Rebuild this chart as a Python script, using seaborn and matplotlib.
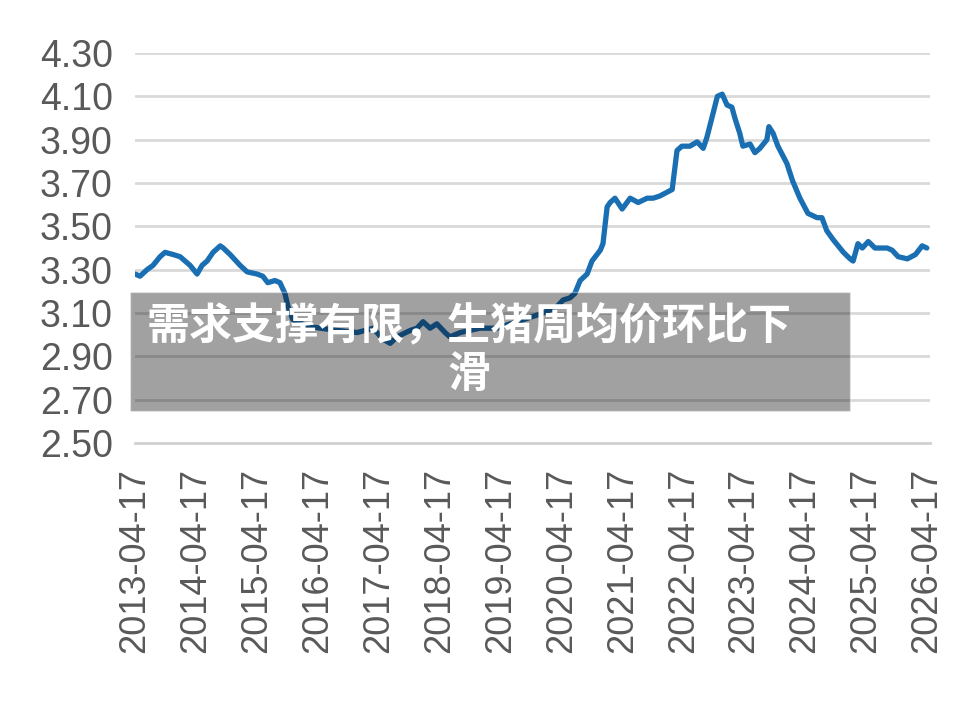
import pandas as pd
import matplotlib
matplotlib.use('Agg')
import matplotlib.pyplot as plt
import matplotlib.dates as mdates
import seaborn as sns

# Datos
fechas = ['2013-04-17', '2013-05-17', '2013-06-28', '2013-08-03', '2013-09-14', '2013-10-14',
          '2013-12-01', '2014-01-12', '2014-02-11', '2014-03-13', '2014-04-24', '2014-05-24',
          '2014-06-23', '2014-07-29', '2014-09-10', '2014-09-28', '2014-11-08', '2015-01-07',
          '2015-02-18', '2015-04-18', '2015-05-23', '2015-06-22', '2015-08-04', '2015-09-03',
          '2015-10-03', '2015-10-21', '2015-11-19', '2016-02-11', '2016-05-01', '2016-08-12',
          '2016-12-10', '2017-03-15', '2017-05-12', '2017-06-25', '2017-08-05', '2017-10-24',
          '2017-12-03', '2018-01-08', '2018-02-19', '2018-04-01', '2018-05-20', '2018-06-18',
          '2018-08-20', '2018-12-15', '2019-03-27', '2019-07-26', '2019-10-13', '2019-12-29',
          '2020-03-22', '2020-04-27', '2020-06-07', '2020-07-06', '2020-08-07', '2020-09-18',
          '2020-10-17', '2020-12-06', '2020-12-22', '2021-01-16', '2021-02-03', '2021-03-04',
          '2021-04-16', '2021-06-03', '2021-07-21', '2021-09-13', '2021-10-19', '2021-11-28',
          '2022-01-16', '2022-02-10', '2022-03-11', '2022-04-09', '2022-05-27', '2022-07-10',
          '2022-08-15', '2022-09-06', '2022-10-06', '2022-11-08', '2022-12-07', '2023-01-05',
          '2023-02-03', '2023-02-21', '2023-03-22', '2023-04-10', '2023-05-23', '2023-06-21',
          '2023-07-21', '2023-09-01', '2023-09-13', '2023-10-08', '2023-11-06', '2023-12-30',
          '2024-02-02', '2024-03-17', '2024-05-04', '2024-06-28', '2024-07-27', '2024-08-25',
          '2024-10-01', '2024-12-03', '2025-01-12', '2025-01-30', '2025-02-28', '2025-03-26',
          '2025-05-01', '2025-06-10', '2025-08-22', '2025-09-21', '2025-10-27', '2025-12-21',
          '2026-02-08', '2026-03-20', '2026-04-17']
precios = [3.28, 3.27, 3.30, 3.32, 3.36, 3.38,
           3.37, 3.36, 3.34, 3.32, 3.28, 3.32,
           3.34, 3.38, 3.41, 3.40, 3.37, 3.32,
           3.29, 3.28, 3.27, 3.24, 3.25, 3.24,
           3.19, 3.13, 3.07, 3.04, 3.03, 3.02,
           3.01, 3.03, 2.98, 2.96, 2.99, 3.02,
           3.03, 3.06, 3.03, 3.05, 3.01, 2.99,
           3.01, 3.03, 3.03, 3.06, 3.08, 3.10,
           3.13, 3.16, 3.17, 3.19, 3.25, 3.28,
           3.34, 3.39, 3.42, 3.59, 3.61, 3.63,
           3.58, 3.63, 3.61, 3.63, 3.63, 3.64,
           3.66, 3.67, 3.85, 3.87, 3.87, 3.89,
           3.86, 3.91, 4.00, 4.10, 4.11, 4.06,
           4.05, 4.00, 3.93, 3.87, 3.88, 3.84,
           3.86, 3.90, 3.96, 3.93, 3.87, 3.79,
           3.71, 3.63, 3.56, 3.54, 3.54, 3.48,
           3.44, 3.38, 3.35, 3.34, 3.42, 3.40,
           3.43, 3.40, 3.40, 3.39, 3.36, 3.35,
           3.37, 3.41, 3.40]
ticks_x = ['2013-04-17', '2014-04-17', '2015-04-17', '2016-04-17', '2017-04-17', '2018-04-17',
           '2019-04-17', '2020-04-17', '2021-04-17', '2022-04-17', '2023-04-17', '2024-04-17',
           '2025-04-17', '2026-04-17']
ticks_y = [2.50, 2.70, 2.90, 3.10, 3.30, 3.50, 3.70, 3.90, 4.10, 4.30]
titulo = '需求支撑有限，生猪周均价环比下\n滑'

df = pd.DataFrame({'fecha': pd.to_datetime(fechas), 'precio': precios})

sns.set_style("white")
plt.rcParams['font.family'] = ['Liberation Sans', 'DejaVu Sans']

fig = plt.figure(figsize=(9.8, 7.04), dpi=100)
ax = fig.add_axes([0.1378, 0.3707, 0.811, 0.554])

# Líneas de cuadrícula
for v in ticks_y[1:]:
    ax.axhline(v, color='#d9d9d9', lw=2, zorder=0)

sns.lineplot(data=df, x='fecha', y='precio', ax=ax, color='#1a6fb3', lw=3.8, zorder=3)

ax.set_ylim(2.5, 4.3)
ax.set_xlim(pd.Timestamp('2013-04-17'), pd.Timestamp('2026-05-05'))
ax.set_yticks(ticks_y)
ax.set_yticklabels([f'{v:.2f}' for v in ticks_y])
ax.set_xticks(pd.to_datetime(ticks_x))
ax.xaxis.set_major_formatter(mdates.DateFormatter('%Y-%m-%d'))
plt.xticks(rotation=90)
ax.set_xlabel('')
ax.set_ylabel('')

for s in ['top', 'right', 'left']:
    ax.spines[s].set_visible(False)
ax.spines['bottom'].set_color('#d0d0d0')
ax.spines['bottom'].set_linewidth(2)
ax.tick_params(axis='x', length=10, width=2, color='#d0d0d0', labelcolor='#595959',
               labelsize=26, pad=8)
ax.tick_params(axis='y', length=0, labelcolor='#595959', labelsize=27, pad=16)

# Cuadro gris con el título
fig.patches.append(plt.Rectangle((130 / 980, 1 - 411 / 704), 720 / 980, 119 / 704,
                                 transform=fig.transFigure, facecolor='black',
                                 alpha=0.37, zorder=5))
fig.text(469 / 980, 1 - 350 / 704, titulo, ha='center', va='center', color='white',
         fontsize=31, fontweight='heavy', family=['Noto Sans CJK SC', 'DejaVu Sans'],
         linespacing=1.1, zorder=6)

plt.savefig('out.png', dpi=100)
plt.close()
